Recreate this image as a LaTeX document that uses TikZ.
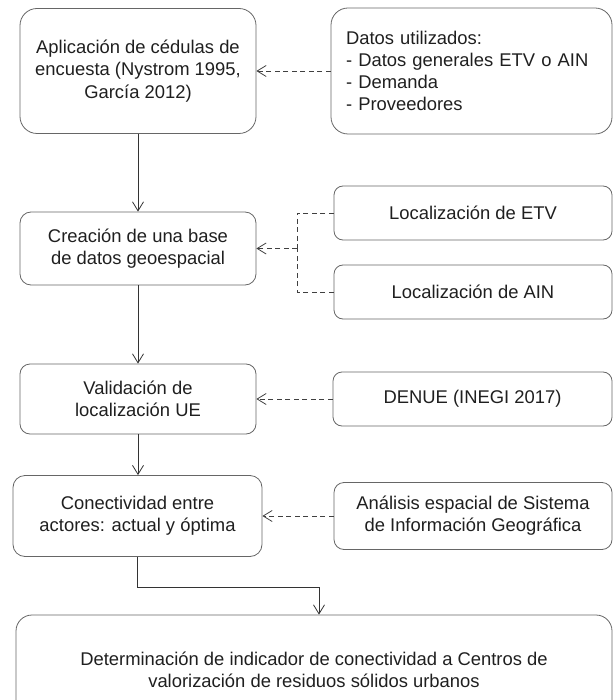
\documentclass[tikz,border=0pt]{standalone}
\usepackage{fontspec}
\setmainfont{Liberation Sans}
\usetikzlibrary{arrows.meta}

\begin{document}
\begin{tikzpicture}[x=1pt,y=-1pt,line width=0.8pt,
  >={Straight Barb[length=9pt,width=11pt]},
  box/.style={draw=black!60,align=center,inner sep=0pt,text=black!88,
    font=\fontsize{18.4}{22.2}\selectfont},
  flow/.style={draw=black!80,->},
  feed/.style={draw=black!75,dash pattern=on 5pt off 3.5pt}]
\path[use as bounding box,clip] (0,0) rectangle (613,700);

% main steps
\node [box,rounded corners=17,minimum width=236,minimum height=125] (apl) at (138,71)
  {Aplicación de cédulas de\\encuesta (Nystrom 1995,\\García 2012)};
\node [box,rounded corners=11,minimum width=236,minimum height=73] (bd) at (138,248.5)
  {Creación de una base\\de datos geoespacial};
\node [box,rounded corners=10,minimum width=236,minimum height=70] (val) at (138,399)
  {Validación de\\localización UE};
\node [box,rounded corners=12,minimum width=249,minimum height=81] (con) at (137.5,516)
  {Conectividad entre\\actores: actual y óptima};
\node [box,rounded corners=16,minimum width=596,minimum height=110] (ind) at (314,670)
  {Determinación de indicador de conectividad a Centros de\\valorización de residuos sólidos urbanos};

% inputs
\node [box,rounded corners=17,align=left,text width=251,inner xsep=15,minimum height=126] (datos) at (471.5,71)
  {Datos utilizados:\\- Datos generales ETV o AIN\\- Demanda\\- Proveedores};
\node [box,rounded corners=9,minimum width=278,minimum height=54] (etv) at (473,213) {Localización de ETV};
\node [box,rounded corners=9,minimum width=278,minimum height=54] (ain) at (473,292) {Localización de AIN};
\node [box,rounded corners=9,minimum width=279,minimum height=54] (denue) at (472.5,399) {DENUE (INEGI 2017)};
\node [box,rounded corners=10,minimum width=278,minimum height=67] (sig) at (473,516)
  {Análisis espacial de Sistema\\de Información Geográfica};

\coordinate (jn) at (297,248.5);

\draw[flow] (apl) -- (bd);
\draw[flow] (bd) -- (val);
\draw[flow] (val.south) -- (val.south |- con.north);
\draw[flow] (con.south) -- ++(0,30) -| ([xshift=5pt]ind.north);

\draw[feed,->] (datos.west) -- (apl.east);
\draw[feed] (etv.west) -| (jn);
\draw[feed] (ain.west) -| (jn);
\draw[feed,->] (jn) -- (bd.east);
\draw[feed,->] (denue.west) -- (val.east);
\draw[feed,->] (sig.west) -- (con.east);
\end{tikzpicture}
\end{document}
